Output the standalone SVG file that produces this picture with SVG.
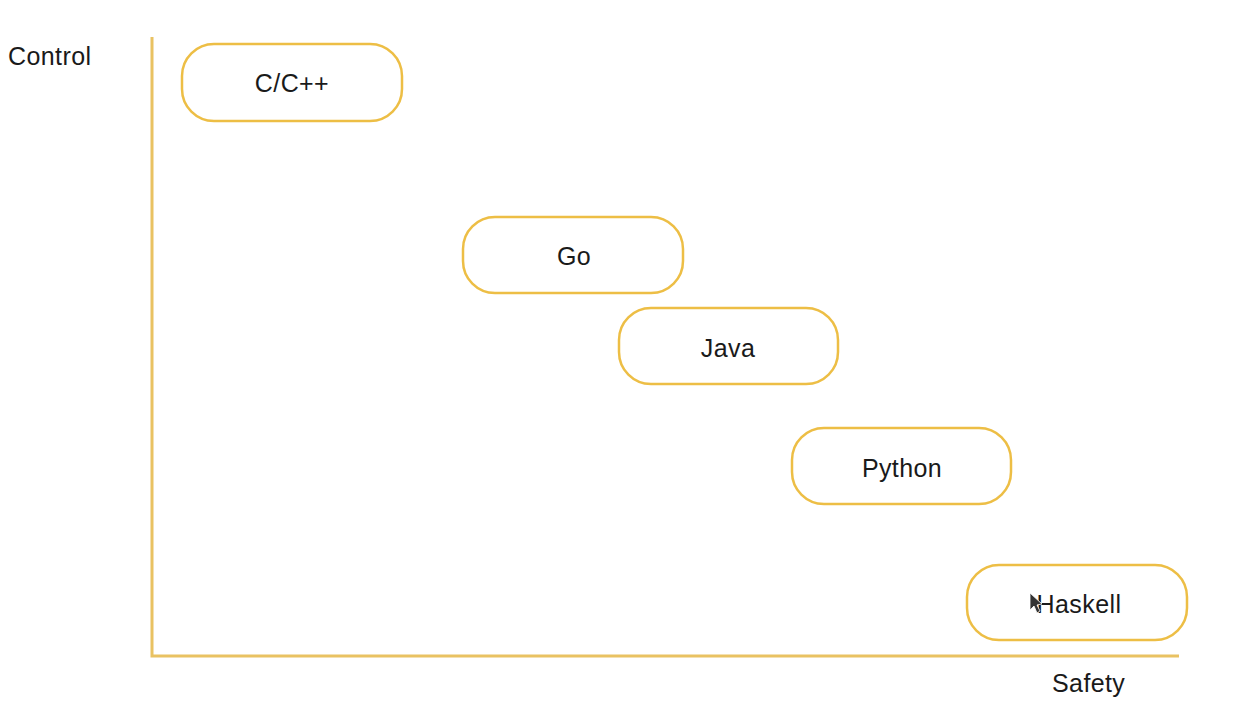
<svg xmlns="http://www.w3.org/2000/svg" width="1251" height="711" viewBox="0 0 1251 711">
<style>
.node rect{fill:#ffffff;stroke:#EDBE45;stroke-width:2.5}
.node text,.lbl{font-family:"Liberation Sans",Arial,sans-serif;font-size:25px;letter-spacing:0.4px;fill:#1a1a1a}
.node text{text-anchor:middle}
.axis{stroke:#E9C262;stroke-width:3;fill:none}
</style>
<rect width="1251" height="711" fill="#ffffff"/>
<g id="axes">
<path class="axis" d="M152 37 V656 H1179"/>
</g>
<text class="lbl" x="8" y="65">Control</text>
<text class="lbl" x="1052" y="692">Safety</text>
<g id="connectors"></g>
<g id="n-cpp" class="node"><rect x="182" y="44" width="220" height="77" rx="32"/><text x="292" y="92">C/C++</text></g>
<g id="n-go" class="node"><rect x="463" y="217" width="220" height="76" rx="32"/><text x="574" y="265">Go</text></g>
<g id="n-java" class="node"><rect x="619" y="308" width="219" height="76" rx="32"/><text x="728" y="357">Java</text></g>
<g id="n-python" class="node"><rect x="792" y="428" width="219" height="76" rx="32"/><text x="902" y="477">Python</text></g>
<g id="n-haskell" class="node"><rect x="967" y="565" width="220" height="75" rx="32"/><text x="1079" y="613">Haskell</text></g>
<path d="M1030 593 L1030 610 L1034 606 L1037 613 L1040 611 L1037 605 L1042 604 Z" fill="#333333" stroke="#ffffff" stroke-width="0.8"/>
</svg>
